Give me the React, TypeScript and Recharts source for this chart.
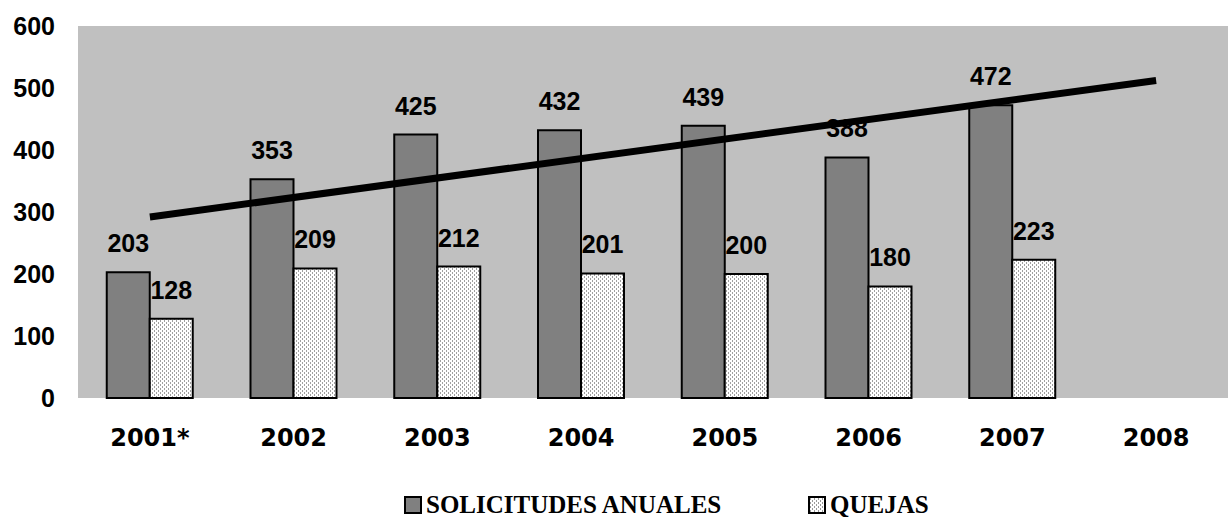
import React from 'react';
import { XAxis, YAxis, CartesianGrid, Bar, Line, LabelList, Legend, ComposedChart } from 'recharts';

const years = ['2001*', '2002', '2003', '2004', '2005', '2006', '2007', '2008'];
const solicitudes = [203, 353, 425, 432, 439, 388, 472, null];
const quejas = [128, 209, 212, 201, 200, 180, 223, null];
const trend = [292, null, null, null, null, null, null, 512];
const yTicks = [0, 100, 200, 300, 400, 500, 600];

const data = years.map((y, i) => ({
  year: y,
  solicitudes: solicitudes[i],
  quejas: quejas[i],
  trend: trend[i],
}));

const sansBold = { fontFamily: '"Liberation Sans", Arial, sans-serif', fontWeight: 700 };

const LegendContent = () => (
  <div style={{ position: 'relative', height: 30, width: 1230, fontFamily: '"Liberation Serif", "Times New Roman", serif', fontWeight: 700, fontSize: 25, color: '#000' }}>
    <div style={{ position: 'absolute', left: 404, top: 6, display: 'flex', alignItems: 'center', whiteSpace: 'nowrap' }}>
      <svg width={18} height={18} style={{ marginRight: 4 }}>
        <rect x={1} y={1} width={16} height={16} fill="#808080" stroke="#000" strokeWidth={2} />
      </svg>
      <span style={{ lineHeight: '24px' }}>SOLICITUDES ANUALES</span>
    </div>
    <div style={{ position: 'absolute', left: 808, top: 6, display: 'flex', alignItems: 'center', whiteSpace: 'nowrap' }}>
      <svg width={18} height={18} style={{ marginRight: 4 }}>
        <defs>
          <pattern id="dotsLegend" width={4} height={4} patternUnits="userSpaceOnUse">
            <rect x={0} y={0} width={4} height={4} fill="#ffffff" />
            <rect x={0} y={0} width={1} height={2} fill="#9a9a9a" />
            <rect x={2} y={2} width={1} height={2} fill="#9a9a9a" />
          </pattern>
        </defs>
        <rect x={1} y={1} width={16} height={16} fill="url(#dotsLegend)" stroke="#000" strokeWidth={2} />
      </svg>
      <span style={{ lineHeight: '24px' }}>QUEJAS</span>
    </div>
  </div>
);

export default function App() {
  return (
    <div style={{ width: 1230, height: 517 }}>
      <style>{`body{margin:0;background:#fff;}`}</style>
      <ComposedChart
        width={1230}
        height={517}
        data={data}
        margin={{ top: 26, right: 2, bottom: 0, left: 0 }}
        barCategoryGap="20%"
        barGap={0}
      >
        <defs>
          <pattern id="dots" width={4} height={4} patternUnits="userSpaceOnUse">
            <rect x={0} y={0} width={4} height={4} fill="#ffffff" />
            <rect x={0} y={0} width={1} height={2} fill="#a0a0a0" />
            <rect x={2} y={2} width={1} height={2} fill="#a0a0a0" />
          </pattern>
        </defs>
        <CartesianGrid horizontal={false} vertical={false} fill="#C0C0C0" />
        <XAxis
          dataKey="year"
          axisLine={false}
          tickLine={false}
          tickSize={0}
          tickMargin={31}
          height={89}
          interval={0}
          tick={{ fill: '#000', fontFamily: '"DejaVu Sans", Verdana, sans-serif', fontWeight: 700, fontSize: 24 }}
        />
        <YAxis
          domain={[0, 600]}
          ticks={yTicks}
          axisLine={false}
          tickLine={false}
          tickSize={0}
          tickMargin={23}
          width={78}
          tick={{ fill: '#000', ...sansBold, fontSize: 25 }}
        />
        <Bar dataKey="solicitudes" fill="#808080" stroke="#000" strokeWidth={2} isAnimationActive={false}>
          <LabelList dataKey="solicitudes" position="top" offset={20} fill="#000" style={{ ...sansBold, fontSize: 25 }} />
        </Bar>
        <Bar dataKey="quejas" fill="url(#dots)" stroke="#000" strokeWidth={2} isAnimationActive={false}>
          <LabelList dataKey="quejas" position="top" offset={20} fill="#000" style={{ ...sansBold, fontSize: 25 }} />
        </Bar>
        <Line dataKey="trend" stroke="#000" strokeWidth={7} dot={false} activeDot={false} connectNulls isAnimationActive={false} legendType="none" />
        <Legend verticalAlign="bottom" align="left" content={<LegendContent />} wrapperStyle={{ left: 0, width: 1230, height: 30 }} />
      </ComposedChart>
    </div>
  );
}
